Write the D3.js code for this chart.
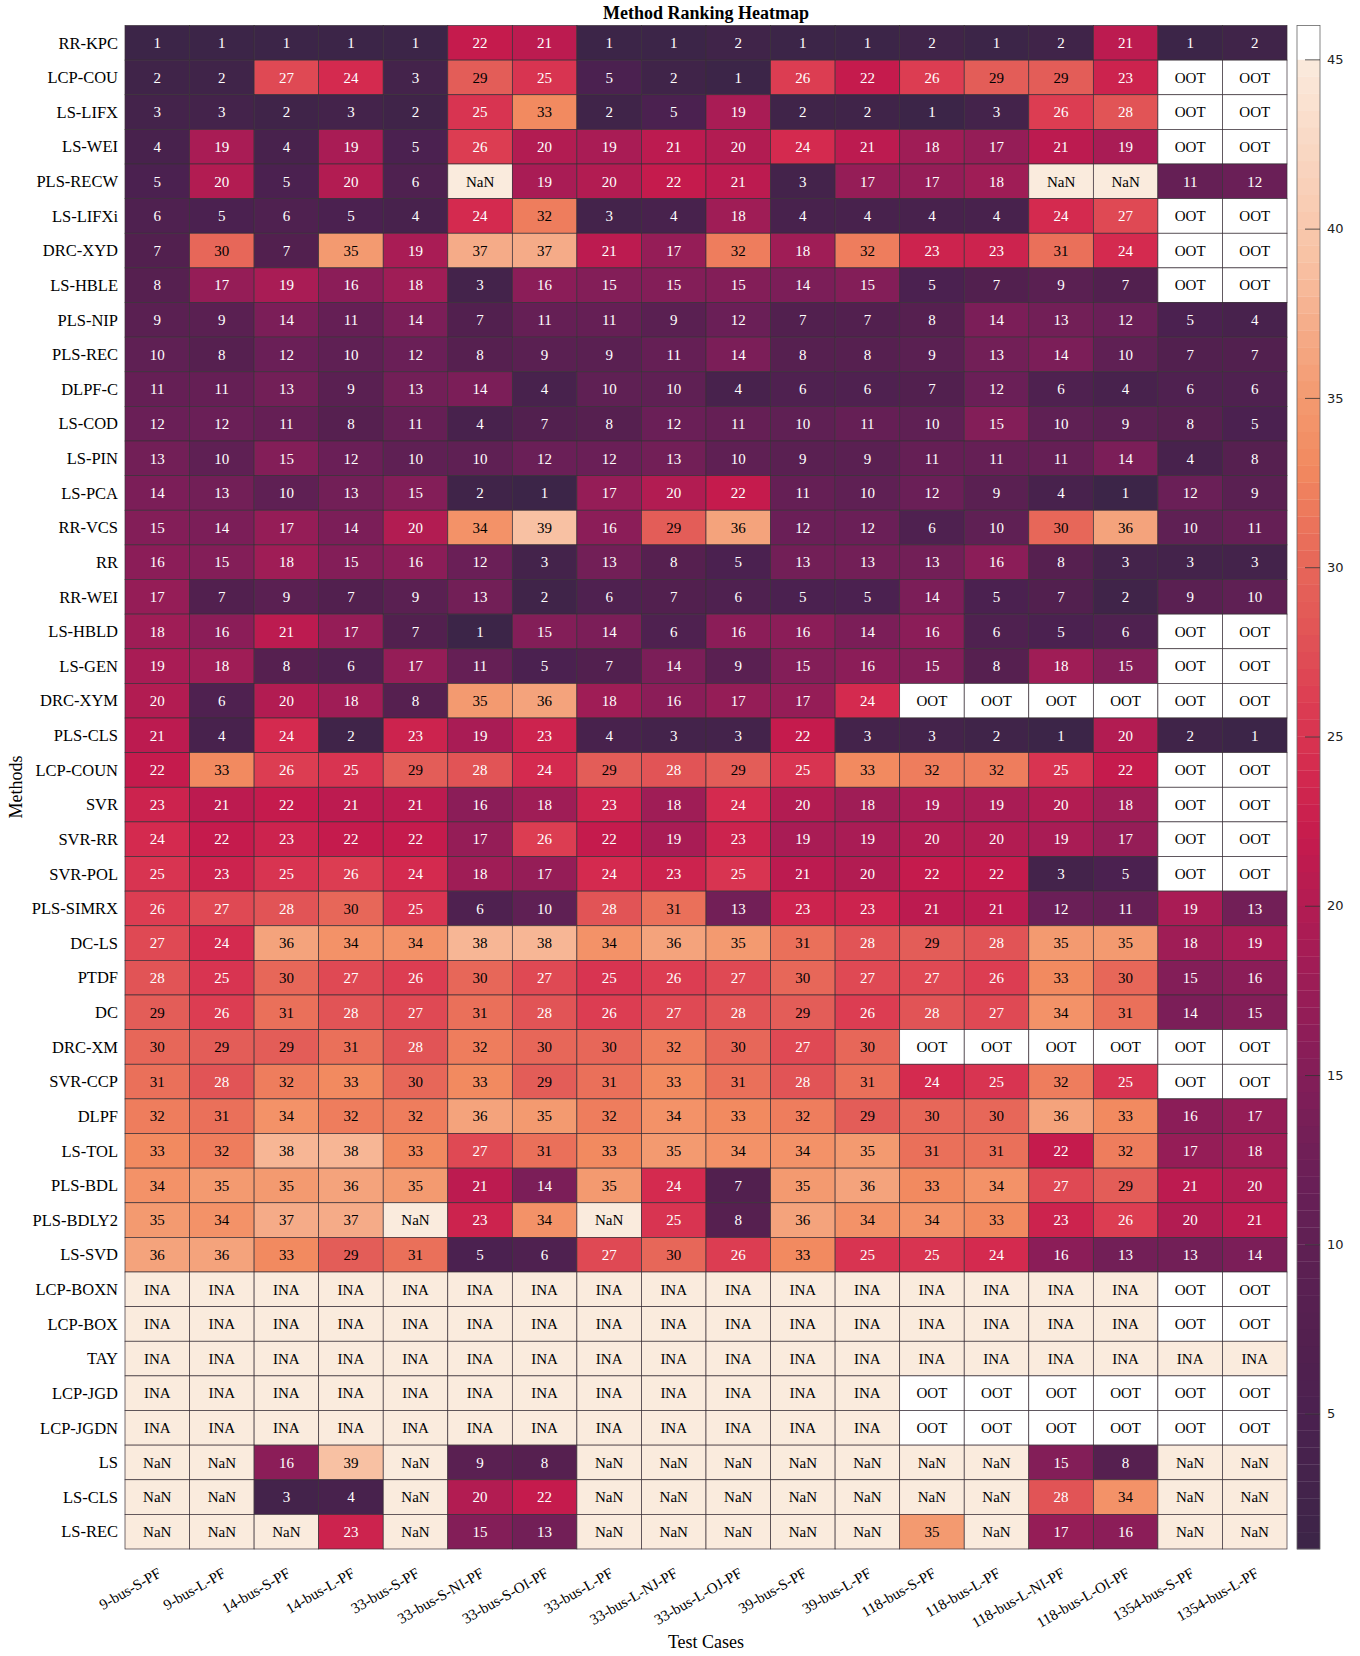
<!DOCTYPE html>
<html><head><meta charset="utf-8">
<script src="https://cdn.jsdelivr.net/npm/d3@7"></script>
<style>body{margin:0;background:#fff}</style>
</head><body><svg id="chart" width="1360" height="1656"></svg>
<script>
const O = "OOT", I = "INA", N = "NaN";
const testCases = ["9-bus-S-PF","9-bus-L-PF","14-bus-S-PF","14-bus-L-PF","33-bus-S-PF","33-bus-S-NI-PF","33-bus-S-OI-PF","33-bus-L-PF","33-bus-L-NJ-PF","33-bus-L-OJ-PF","39-bus-S-PF","39-bus-L-PF","118-bus-S-PF","118-bus-L-PF","118-bus-L-NI-PF","118-bus-L-OI-PF","1354-bus-S-PF","1354-bus-L-PF"];
const methods = ["RR-KPC","LCP-COU","LS-LIFX","LS-WEI","PLS-RECW","LS-LIFXi","DRC-XYD","LS-HBLE","PLS-NIP","PLS-REC","DLPF-C","LS-COD","LS-PIN","LS-PCA","RR-VCS","RR","RR-WEI","LS-HBLD","LS-GEN","DRC-XYM","PLS-CLS","LCP-COUN","SVR","SVR-RR","SVR-POL","PLS-SIMRX","DC-LS","PTDF","DC","DRC-XM","SVR-CCP","DLPF","LS-TOL","PLS-BDL","PLS-BDLY2","LS-SVD","LCP-BOXN","LCP-BOX","TAY","LCP-JGD","LCP-JGDN","LS","LS-CLS","LS-REC"];
const ranks = [
 [1,1,1,1,1,22,21,1,1,2,1,1,2,1,2,21,1,2],
 [2,2,27,24,3,29,25,5,2,1,26,22,26,29,29,23,O,O],
 [3,3,2,3,2,25,33,2,5,19,2,2,1,3,26,28,O,O],
 [4,19,4,19,5,26,20,19,21,20,24,21,18,17,21,19,O,O],
 [5,20,5,20,6,N,19,20,22,21,3,17,17,18,N,N,11,12],
 [6,5,6,5,4,24,32,3,4,18,4,4,4,4,24,27,O,O],
 [7,30,7,35,19,37,37,21,17,32,18,32,23,23,31,24,O,O],
 [8,17,19,16,18,3,16,15,15,15,14,15,5,7,9,7,O,O],
 [9,9,14,11,14,7,11,11,9,12,7,7,8,14,13,12,5,4],
 [10,8,12,10,12,8,9,9,11,14,8,8,9,13,14,10,7,7],
 [11,11,13,9,13,14,4,10,10,4,6,6,7,12,6,4,6,6],
 [12,12,11,8,11,4,7,8,12,11,10,11,10,15,10,9,8,5],
 [13,10,15,12,10,10,12,12,13,10,9,9,11,11,11,14,4,8],
 [14,13,10,13,15,2,1,17,20,22,11,10,12,9,4,1,12,9],
 [15,14,17,14,20,34,39,16,29,36,12,12,6,10,30,36,10,11],
 [16,15,18,15,16,12,3,13,8,5,13,13,13,16,8,3,3,3],
 [17,7,9,7,9,13,2,6,7,6,5,5,14,5,7,2,9,10],
 [18,16,21,17,7,1,15,14,6,16,16,14,16,6,5,6,O,O],
 [19,18,8,6,17,11,5,7,14,9,15,16,15,8,18,15,O,O],
 [20,6,20,18,8,35,36,18,16,17,17,24,O,O,O,O,O,O],
 [21,4,24,2,23,19,23,4,3,3,22,3,3,2,1,20,2,1],
 [22,33,26,25,29,28,24,29,28,29,25,33,32,32,25,22,O,O],
 [23,21,22,21,21,16,18,23,18,24,20,18,19,19,20,18,O,O],
 [24,22,23,22,22,17,26,22,19,23,19,19,20,20,19,17,O,O],
 [25,23,25,26,24,18,17,24,23,25,21,20,22,22,3,5,O,O],
 [26,27,28,30,25,6,10,28,31,13,23,23,21,21,12,11,19,13],
 [27,24,36,34,34,38,38,34,36,35,31,28,29,28,35,35,18,19],
 [28,25,30,27,26,30,27,25,26,27,30,27,27,26,33,30,15,16],
 [29,26,31,28,27,31,28,26,27,28,29,26,28,27,34,31,14,15],
 [30,29,29,31,28,32,30,30,32,30,27,30,O,O,O,O,O,O],
 [31,28,32,33,30,33,29,31,33,31,28,31,24,25,32,25,O,O],
 [32,31,34,32,32,36,35,32,34,33,32,29,30,30,36,33,16,17],
 [33,32,38,38,33,27,31,33,35,34,34,35,31,31,22,32,17,18],
 [34,35,35,36,35,21,14,35,24,7,35,36,33,34,27,29,21,20],
 [35,34,37,37,N,23,34,N,25,8,36,34,34,33,23,26,20,21],
 [36,36,33,29,31,5,6,27,30,26,33,25,25,24,16,13,13,14],
 [I,I,I,I,I,I,I,I,I,I,I,I,I,I,I,I,O,O],
 [I,I,I,I,I,I,I,I,I,I,I,I,I,I,I,I,O,O],
 [I,I,I,I,I,I,I,I,I,I,I,I,I,I,I,I,I,I],
 [I,I,I,I,I,I,I,I,I,I,I,I,O,O,O,O,O,O],
 [I,I,I,I,I,I,I,I,I,I,I,I,O,O,O,O,O,O],
 [N,N,16,39,N,9,8,N,N,N,N,N,N,N,15,8,N,N],
 [N,N,3,4,N,20,22,N,N,N,N,N,N,N,28,34,N,N],
 [N,N,N,23,N,15,13,N,N,N,N,N,35,N,17,16,N,N]
];
const colorbarTicks = [5,10,15,20,25,30,35,40,45];

// colour map (rocket-like), style constants
const stopVals = [1,3,5,7,9,12,16,19,22,24,26,28,29,31,33,35,37,39,42,45];
const stopCols = ["#3c2548","#44234b","#4b2150","#52204f","#5a2052","#6a1f57","#8b1d58","#a91c55","#c51b4d","#d42a4f","#dc3d52","#e15456","#e35d58","#ea705a","#f28a60","#f39a70","#f5ab88","#f8c1a3","#f9d5c0","#faebdd"];
const color = d3.scaleLinear().domain(stopVals).range(stopCols).interpolate(d3.interpolateLab).clamp(true);
const cream = "#faebdd";

const svg = d3.select("#chart");
const serif = "'Liberation Serif','Times New Roman',serif";
const x = d3.scaleBand().domain(testCases).range([125, 1287]);
const y = d3.scaleBand().domain(methods).range([25.5, 1549]);

const cells = [];
ranks.forEach((row, i) => row.forEach((v, j) => cells.push({m: methods[i], t: testCases[j], v})));

function fillOf(v){ if (v === O) return "#ffffff"; if (typeof v !== "number") return cream; return color(v); }
function textOf(v){ if (typeof v !== "number") return "#000"; return v >= 29 ? "#000" : "#fff"; }

const g = svg.append("g");
g.selectAll("rect.cell").data(cells).join("rect")
  .attr("x", d => x(d.t)).attr("y", d => y(d.m))
  .attr("width", x.bandwidth()).attr("height", y.bandwidth())
  .attr("fill", d => fillOf(d.v))
  .attr("stroke", "#3a3038").attr("stroke-width", 0.7);
g.selectAll("text.cell").data(cells).join("text")
  .attr("x", d => x(d.t) + x.bandwidth()/2)
  .attr("y", d => y(d.m) + y.bandwidth()/2)
  .attr("dy", "0.35em").attr("text-anchor", "middle")
  .attr("font-family", serif).attr("font-size", 15)
  .attr("fill", d => textOf(d.v))
  .text(d => d.v);

// y labels
svg.append("g").selectAll("text").data(methods).join("text")
  .attr("x", 118).attr("y", d => y(d) + y.bandwidth()/2).attr("dy", "0.35em")
  .attr("text-anchor", "end").attr("font-family", serif).attr("font-size", 16.5)
  .attr("fill", "#000").text(d => d);

// x labels
svg.append("g").selectAll("text").data(testCases).join("text")
  .attr("transform", d => `translate(${x(d) + x.bandwidth()/2 + 5},1576) rotate(-30)`)
  .attr("text-anchor", "end").attr("font-family", serif).attr("font-size", 15)
  .attr("fill", "#000").text(d => d);

// titles
svg.append("text").attr("x", 706).attr("y", 19).attr("text-anchor", "middle")
  .attr("font-family", serif).attr("font-size", 18).attr("font-weight", "bold").text("Method Ranking Heatmap");
svg.append("text").attr("x", 706).attr("y", 1648).attr("text-anchor", "middle")
  .attr("font-family", serif).attr("font-size", 18).text("Test Cases");
svg.append("text").attr("transform", "translate(22,787) rotate(-90)").attr("text-anchor", "middle")
  .attr("font-family", serif).attr("font-size", 18).text("Methods");

// colorbar
const cbX = 1297, cbW = 23;
const cb = d3.scaleLinear().domain([1, 46]).range([1549, 25.5]);
const bands = d3.range(1, 46, 0.5);
svg.append("g").selectAll("rect").data(bands).join("rect")
  .attr("x", cbX).attr("width", cbW)
  .attr("y", d => cb(d + 0.5)).attr("height", d => cb(d) - cb(d + 0.5) + 0.3)
  .attr("fill", d => d >= 45 ? "#ffffff" : color(d + 0.25));
svg.append("rect").attr("x", cbX).attr("y", 25.5).attr("width", cbW).attr("height", 1549 - 25.5)
  .attr("fill", "none").attr("stroke", "#666").attr("stroke-width", 0.8);
const cbAxis = svg.append("g").attr("transform", `translate(${cbX + cbW},0)`)
  .call(d3.axisRight(cb).tickValues(colorbarTicks).tickSize(-15).tickPadding(7));
cbAxis.select(".domain").remove();
cbAxis.selectAll("line").attr("stroke", "#333").attr("stroke-width", 0.8);
cbAxis.selectAll("text").attr("font-family", "'DejaVu Sans',sans-serif").attr("font-size", 13).attr("fill", "#222");
</script></body></html>
